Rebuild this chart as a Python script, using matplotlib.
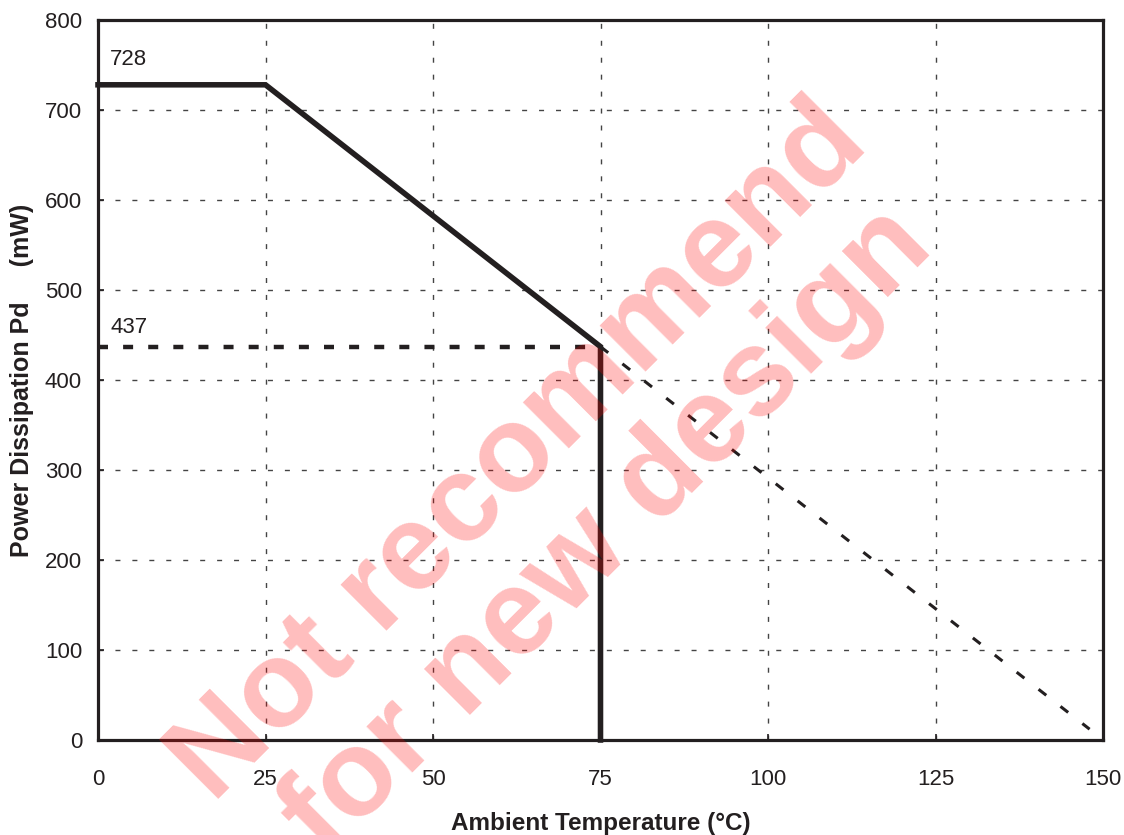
import matplotlib
matplotlib.use("Agg")
import matplotlib.pyplot as plt

# ---- data ----
temp_rated = [0, 25, 75, 75]
power_rated = [728, 728, 437, 0]
temp_ref = [0, 75]
power_ref = [437, 437]
temp_extra = [75, 148]
power_extra = [437, 12]
x_ticks = [0, 25, 50, 75, 100, 125, 150]
y_ticks = [0, 100, 200, 300, 400, 500, 600, 700, 800]
annot_values = [728, 437]

plt.rcParams['font.family'] = ['Liberation Sans', 'DejaVu Sans']

ink = '#231f20'
fig = plt.figure(figsize=(11.24, 8.35), dpi=100)
ax = fig.add_axes([98/1124, 1-740/835, (1103-98)/1124, (740-20)/835])

ax.set_xlim(0, 150)
ax.set_ylim(0, 800)
ax.set_xticks(x_ticks)
ax.set_yticks(y_ticks)
ax.tick_params(direction='in', length=4, width=1.2, labelsize=16, colors=ink)
ax.tick_params(axis='x', pad=21)
ax.tick_params(axis='y', pad=11.5)

ax.grid(True, color='#444444', linestyle=(0, (3.6, 8.6)), linewidth=1.0)
for s in ax.spines.values():
    s.set_linewidth(2.3)
    s.set_color(ink)

ax.plot(temp_rated, power_rated, color=ink, linewidth=4.0, solid_joinstyle='miter', clip_on=False, zorder=5)
ax.plot(temp_ref, power_ref, color=ink, linewidth=3.2, linestyle=(0, (2.25, 3.4)), zorder=4)
ax.plot(temp_extra, power_extra, color=ink, linewidth=2.2, linestyle=(0, (3.2, 5.9)), zorder=4)

ax.text(1.8, annot_values[0] + 22, str(annot_values[0]), fontsize=16, color=ink, va='baseline')
ax.text(1.8, annot_values[1] + 15, str(annot_values[1]), fontsize=16, color=ink, va='baseline')

ax.set_xlabel('Ambient Temperature (°C)', fontsize=17.5, fontweight='bold', color=ink, labelpad=15.5)
ax.set_ylabel('Power Dissipation Pd     (mW)', fontsize=18, fontweight='bold', color=ink, labelpad=8)

# watermark
wm_font = dict(family=['Liberation Sans', 'DejaVu Sans'], fontweight='bold', fontsize=88,
               color='#ff0000', alpha=0.26, rotation=45, rotation_mode='anchor',
               ha='center', va='baseline', zorder=10)
fig.text(542/1124, 1-475/835, 'Not recommend', transform=fig.transFigure, **wm_font)
fig.text(631/1124, 1-555/835, 'for new design', transform=fig.transFigure, **wm_font)

fig.savefig('out.png', dpi=100)
